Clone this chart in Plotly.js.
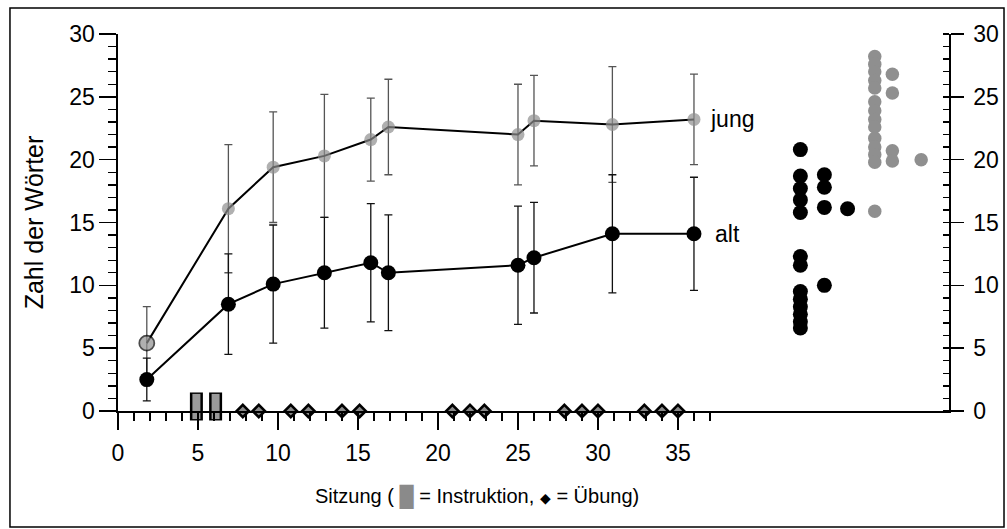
<!DOCTYPE html>
<html><head><meta charset="utf-8">
<script src="https://cdn.plot.ly/plotly-3.0.1.min.js"></script>
<style>html,body{margin:0;padding:0;background:#fff}#chart{width:1007px;height:529px}</style>
</head><body><div id="chart"></div>
<script>
// --- data ---
const sessions = [1.8, 6.9, 9.7, 12.9, 15.8, 16.9, 25.0, 26.0, 30.9, 36.0];
const jungMean = [5.4, 16.1, 19.4, 20.3, 21.6, 22.6, 22.0, 23.1, 22.8, 23.2];
const jungSD   = [2.9, 5.1, 4.4, 4.9, 3.3, 3.8, 4.0, 3.6, 4.6, 3.6];
const altMean  = [2.5, 8.5, 10.1, 11.0, 11.8, 11.0, 11.6, 12.2, 14.1, 14.1];
const altSD    = [1.7, 4.0, 4.7, 4.4, 4.7, 4.6, 4.7, 4.4, 4.7, 4.5];
const instruktion = [4.9, 6.1];
const uebung = [7.8, 8.8, 10.8, 11.9, 14.0, 15.1, 20.9, 22.0, 22.9, 27.9, 29.0, 30.0, 32.9, 34.0, 35.0];
// individual scores (dot plot), value and stack column
const altIndiv    = [20.8, 18.7, 17.7, 16.8, 15.8, 12.3, 11.6, 9.5, 8.9, 8.3, 7.7, 7.1, 6.6, 18.8, 17.8, 16.2, 10.0, 16.1];
const altIndivCol = [0,0,0,0,0,0,0,0,0,0,0,0,0, 1,1,1,1, 2];
const jungIndiv    = [28.2, 27.6, 27.0, 26.3, 25.7, 24.6, 23.9, 23.2, 22.6, 21.7, 21.0, 20.4, 19.8, 15.9, 26.8, 25.3, 20.7, 19.9, 20.0];
const jungIndivCol = [0,0,0,0,0,0,0,0,0,0,0,0,0,0, 1,1,1,1, 2];
const xTicks = [0, 5, 10, 15, 20, 25, 30, 35];
const yTicks = [0, 5, 10, 15, 20, 25, 30];
const seriesLabels = ['jung', 'alt'];
const xTitle = 'Sitzung ( <span style="color:#8a8a8a">█</span> = Instruktion, <span style="font-size:14px">◆</span> = Übung)';
const yTitle = 'Zahl der Wörter';

// --- layout helpers (positions / styles) ---
const altColX = [42.65, 44.15, 45.6];
const jungColX = [47.3, 48.4, 50.2];
const FONT = 'Liberation Sans, Arial, sans-serif';
const GREY = '#8f8f8f';
const minorX = [];
for (let i = 1; i <= 37; i++) if (i % 5 !== 0) minorX.push(i);

const traces = [
  { // instruction sessions: bordered grey bars (outer)
    x: instruktion, y: instruktion.map(() => 0.36), mode: 'markers', type: 'scatter',
    cliponaxis: false, hoverinfo: 'skip',
    marker: {symbol: 'line-ns', size: 20, line: {width: 13, color: '#000'}}
  },
  { // inner fill
    x: instruktion, y: instruktion.map(() => 0.36), mode: 'markers', type: 'scatter',
    cliponaxis: false, hoverinfo: 'skip',
    marker: {symbol: 'line-ns', size: 18, line: {width: 8, color: '#9a9a9a'}}
  },
  { // practice sessions: diamonds
    x: uebung, y: uebung.map(() => 0), mode: 'markers', type: 'scatter',
    cliponaxis: false, hoverinfo: 'skip',
    marker: {symbol: 'diamond', size: 9.5, color: '#8a8a8a', line: {width: 2.5, color: '#000'}}
  },
  { // jung
    x: sessions, y: jungMean, mode: 'lines+markers', type: 'scatter', cliponaxis: false,
    line: {color: '#000', width: 2},
    marker: {color: GREY, size: sessions.map((s, i) => i === 0 ? 15 : 13),
             line: {color: '#000', width: sessions.map((s, i) => i === 0 ? 1.8 : 0)}},
    error_y: {type: 'data', array: jungSD, visible: true, color: '#555', thickness: 1.3, width: 4}
  },
  { // alt
    x: sessions, y: altMean, mode: 'lines+markers', type: 'scatter', cliponaxis: false,
    line: {color: '#000', width: 2},
    marker: {color: '#000', size: 15},
    error_y: {type: 'data', array: altSD, visible: true, color: '#111', thickness: 1.3, width: 4}
  },
  { // individual alt
    x: altIndivCol.map(c => altColX[c]), y: altIndiv, yaxis: 'y2', mode: 'markers', type: 'scatter',
    cliponaxis: false, marker: {color: '#000', size: 15}
  },
  { // individual jung
    x: jungIndivCol.map(c => jungColX[c]), y: jungIndiv, yaxis: 'y2', mode: 'markers', type: 'scatter',
    cliponaxis: false, marker: {color: GREY, size: 13.5}
  }
];

const last = sessions.length - 1;
const layout = {
  width: 1007, height: 529,
  margin: {l: 118, r: 58, t: 34, b: 118},
  paper_bgcolor: '#fff', plot_bgcolor: '#fff',
  showlegend: false,
  font: {family: FONT, size: 23, color: '#000'},
  xaxis: {
    range: [0, 51.94], showgrid: false, zeroline: false,
    showline: true, linecolor: '#000', linewidth: 1.6,
    ticks: 'outside', ticklen: 17, tickwidth: 1.6, tickcolor: '#000',
    tickmode: 'array', tickvals: xTicks, ticktext: xTicks.map(String),
    tickfont: {size: 23}, ticklabelstandoff: 4,
    minor: {tickmode: 'array', tickvals: minorX, ticks: 'outside', ticklen: 8, tickwidth: 1.4, tickcolor: '#000'}
  },
  yaxis: {
    range: [0, 30], showgrid: false, zeroline: false,
    showline: true, linecolor: '#000', linewidth: 1.6,
    ticks: 'outside', ticklen: 17, tickwidth: 1.6, tickcolor: '#000',
    tickmode: 'array', tickvals: yTicks, tickfont: {size: 23},
    minor: {dtick: 1, ticks: 'outside', ticklen: 8, tickwidth: 1.4, tickcolor: '#000'},
    title: {text: yTitle, font: {size: 25}, standoff: 18}
  },
  yaxis2: {
    range: [0, 30], overlaying: 'y', side: 'right', anchor: 'x',
    showgrid: false, zeroline: false,
    showline: true, linecolor: '#000', linewidth: 1.6,
    ticks: 'outside', ticklen: 13, tickwidth: 1.6, tickcolor: '#000',
    tickmode: 'array', tickvals: yTicks, tickfont: {size: 23}, ticklabelstandoff: 5,
    minor: {dtick: 1, ticks: 'inside', ticklen: 6, tickwidth: 1.4, tickcolor: '#000'}
  },
  annotations: [
    {x: sessions[last] + 0.85, y: jungMean[last], xref: 'x', yref: 'y', text: seriesLabels[0],
     showarrow: false, xanchor: 'left', yanchor: 'middle', font: {size: 23}},
    {x: sessions[last] + 1.2, y: altMean[last], xref: 'x', yref: 'y', text: seriesLabels[1],
     showarrow: false, xanchor: 'left', yanchor: 'middle', font: {size: 23}},
    {x: 0.432, y: -0.228, xref: 'paper', yref: 'paper', text: xTitle,
     showarrow: false, xanchor: 'center', yanchor: 'middle', font: {size: 20}}
  ],
  shapes: [
    {type: 'rect', xref: 'paper', yref: 'paper', x0: -0.13, x1: 1.0662, y0: -0.3077, y1: 1.069,
     line: {color: '#000', width: 1.5}, fillcolor: 'rgba(0,0,0,0)'}
  ]
};

Plotly.newPlot('chart', traces, layout, {displayModeBar: false, staticPlot: true});
</script>
</body></html>
